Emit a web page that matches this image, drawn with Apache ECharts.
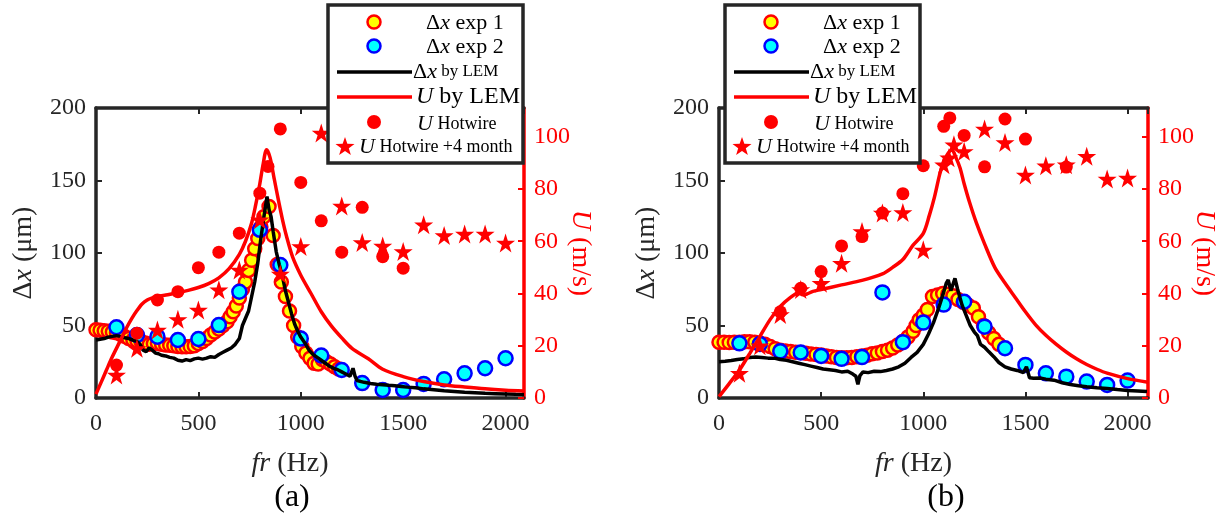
<!DOCTYPE html>
<html>
<head>
<meta charset="utf-8">
<script src="https://cdn.jsdelivr.net/npm/echarts@6/dist/echarts.min.js"></script>
<style>
html,body{margin:0;padding:0;background:#fff;}
#chart{width:1220px;height:521px;}
</style>
</head>
<body>
<div id="chart"></div>
<script>
// ---------------- Tick values ----------------
const xTicks = [0, 500, 1000, 1500, 2000];
const dxTicks = [0, 50, 100, 150, 200];
const uTicks = [0, 20, 40, 60, 80, 100];

// ---------------- Panel (a) ----------------
const a_exp1_fr = [0,20,40,60,80,100,120,140,160,180,200,
  220,240,260,280,300,320,340,360,380,400,420,440,460,480,500,520,540,560,580,600,620,640,
  655,670,685,700,715,730,745,760,775,790,805,820,
  845,865,885,905,925,945,965,985,1005,1025,1045,1065,1085,1105,1125,1145,1165,1185];
const a_exp1_dx = [47,46.8,46.3,46,45.5,45,44,42.5,41,40,39.5,
  39,38,37,37.5,37.8,37,36.5,36.3,36,35.5,35.3,35.3,35.5,36,37.5,39,41,43.5,45.5,47.5,50,52.6,
  56,59.5,63.5,69,75,80,88,95,103,110,118,125,
  132,112,92,80,70,60,50,42,35.5,31,27.4,24,23.5,26.5,25,23.5,21.6,20];

const a_exp2_fr = [100,200,300,400,500,600,700,800,900,1000,1100,1200,1300,1400,1500,1600,1700,1800,1900,2000];
const a_exp2_dx = [48.8,43.4,42.3,40,40.7,50.3,73.3,116,91.7,41,29.3,19.3,10.3,5.5,5.5,9.7,12.9,17,20.5,27.4];

const a_lem_fr = [0,20,40,60,80,100,120,140,160,180,200,215,230,245,260,275,290,305,320,
  340,360,380,400,420,440,460,480,500,520,540,560,580,600,620,640,660,680,700,
  715,730,745,760,775,790,805,820,835,845,855,865,880,895,910,925,940,955,970,985,1000,
  1020,1040,1060,1080,1100,1120,1140,1160,1180,1200,1220,1240,1255,1265,1275,1290,1310,1340,1370,1400,
  1430,1460,1490,1520,1560,1600,1650,1700,1750,1800,1850,1900,1950,2000,2050,2090];
const a_lem_dx = [40,40.5,41,42,42.5,43,42.5,41.5,41,40,39,37,33,32,34.5,33,31,30.5,29.5,
  29,28,27.5,26,25.5,26.5,25.8,27,27.5,26.8,27.5,28.5,28,30,31.5,33,34.5,37,41,
  50,55,60,70,80,93,110,125,139,130,125,115,101,92,84,74,66,58,51,46,42,
  38,33,30,28,26,24,22,20.5,19.5,18,16.5,15,20.5,15,12,11.5,10.8,10,9.5,9.2,
  8.8,8.5,8,7.5,7,6.3,5.7,5,4.5,4,3.6,3.2,3,2.8,2.6,2.5];

const a_lemU_fr = [0,25,50,75,100,125,150,175,200,225,250,275,300,
  350,400,450,500,550,600,650,700,
  730,760,780,800,815,833,850,870,890,910,930,960,
  1000,1050,1100,1150,1200,1250,1330,1400,1500,1600,1700,1800,1900,2000,2090];
const a_lemU = [1.5,6,10.5,15,19,23,27,30.5,33.5,36,37.5,38.3,38.8,
  39.5,40.3,41.2,42.3,43.8,46,49.5,55,
  60,67,74,82,89,95,92,84,76,68.5,62,54,
  47,40,33,27.5,23,19,15,11,8.2,6.3,5,4.2,3.5,3,2.7];

const a_hw_fr = [100,200,300,400,500,600,700,800,840,900,1000,1100,1200,1300,1400,1500];
const a_hw_U = [12.6,24.8,37.5,40.7,49.9,55.8,63.1,78.4,88.6,103,82.5,67.8,55.8,73,54.1,49.7];

const a_hw4_fr = [100,200,300,400,500,600,700,800,900,1000,1100,1200,1300,1400,1500,1600,1700,1800,1900,2000];
const a_hw4_U = [8.8,19,26,30.1,33.7,41.4,49,68.2,47.5,58,101.4,73.5,59.5,58.2,56.1,66.3,62.2,62.8,62.8,59.3];

// ---------------- Panel (b) ----------------
const b_exp1_fr = [0,25,50,75,100,125,150,175,200,225,250,275,300,325,350,375,400,425,450,475,500,
  525,550,575,600,625,650,675,700,725,750,775,800,825,850,875,900,925,950,
  965,980,1000,1020,1045,1070,1095,1120,1145,1170,1195,1220,1245,1270,1295,1320,1345,1370];
const b_exp1_dx = [38.5,38.5,38.3,38.5,38.5,38.8,38.8,38.5,38,37,35.5,34,33,32.5,32,31.5,31.3,30.8,30.3,30,29.6,
  29,28.5,28,27.7,27.7,28,28.5,29,29.5,30.5,31,32,33,34.5,36.5,39,42,46,
  50,54,57,61,70,71,72,71.5,70.5,68,66,64,62,56,50,45,41,37];

const b_exp2_fr = [100,200,300,400,500,600,700,800,900,1000,1100,1200,1300,1400,1500,1600,1700,1800,1900,2000];
const b_exp2_dx = [37.7,37.2,32.2,31.4,29,27,28.2,72.8,38.5,52,64.4,66.4,49.2,34.3,22.8,17,14.7,11.3,9,12];

const b_lem_fr = [0,30,60,90,120,150,180,210,240,270,300,330,360,390,420,450,480,510,540,570,600,
  630,655,670,680,690,705,730,760,790,820,850,880,910,940,970,1000,
  1025,1050,1075,1100,1112,1122,1135,1155,1168,1180,
  1190,1210,1230,1250,1265,1280,1300,1320,1345,1370,
  1400,1430,1460,1490,1505,1520,1540,1570,1600,
  1640,1680,1720,1760,1800,1850,1900,1950,2000,2050,2095];
const b_lem_dx = [25,25.3,25.8,26.5,27,28,28.3,28,27.5,27.5,26.5,26,25,24,23,22,21,20,19.5,19,18,
  18.5,16.5,15,9.5,15.5,18,17.5,18.5,18.2,19,20,21.5,24,28,31.5,37,
  44,52,62,73,79,81.5,74,82.5,75,69,
  64,57,50,45.5,43,37,35,32,28.5,24.5,
  21.5,20,19,17.5,21.5,14,13.6,13.8,13,
  12.3,10.5,9.3,8.5,7.8,7,6.5,5.8,5.2,4.8,4.4];

const b_lemU_fr = [0,50,100,150,200,250,300,350,390,410,430,460,500,
  600,700,800,850,900,950,1000,
  1030,1055,1080,1100,1120,1140,1160,1180,1200,1226,1260,1300,
  1350,1400,1450,1500,1550,1600,1650,1700,1750,1800,1850,1900,2000,2100];
const b_lemU = [0.5,5.5,10.7,17,23.5,30,35,38.5,40.3,39.5,39.8,40.8,41.5,
  43.3,45,47.5,50,53,58.5,63,
  70,77,85.5,90.5,93.5,95,92,88,82,75,67,59,
  50,44,38.5,33,28,24,20.6,17.6,15,12.8,11,9.5,7.4,6];

const b_hw_fr = [300,400,500,600,700,800,900,1000,1100,1130,1200,1300,1400,1500,1700];
const b_hw_U = [33,42,48.4,58.2,61.8,70.8,78.2,88.9,104,107.2,100.5,88.5,106.8,99.1,88.4];

const b_hw4_fr = [100,200,300,400,500,600,700,800,900,1000,1100,1125,1150,1200,1300,1400,1500,1600,1700,1800,1900,2000];
const b_hw4_U = [9.5,20,32,41.5,43.9,51.6,63.7,70.8,71,56.7,89.3,92,96.9,94.4,103,97.8,85.4,88.9,89.3,92.5,83.8,84.2];

// ---------------- Texts ----------------
const legendLabels = ['Δx exp 1', 'Δx exp 2', 'Δx by LEM', 'U by LEM', 'U Hotwire', 'U Hotwire +4 month'];
const panelLabels = ['(a)', '(b)'];

// ---------------- Helpers ----------------
const zip = (xs, ys) => xs.map((x, i) => [x, ys[i]]);
const FONT = '"Liberation Serif", "Times New Roman", serif';
const DARK = '#262626';
const RED = '#ff0000';
const starPath = 'path://M50,2 L61.8,37.6 L99,37.6 L68.9,59.6 L80.4,95.1 L50,73.1 L19.6,95.1 L31.1,59.6 L1,37.6 L38.2,37.6 Z';

const grids = [
  {left: 96, top: 108, width: 428, height: 290, outerBoundsMode: 'none', containLabel: false},
  {left: 719, top: 108, width: 429, height: 290, outerBoundsMode: 'none', containLabel: false}
];
const xMax = [2090, 2100];
const uMax = 111;

function richSet(size, color) {
  return {
    n: {fontFamily: FONT, fontSize: size, color: color},
    i: {fontFamily: FONT, fontSize: size, color: color, fontStyle: 'italic'}
  };
}
const plain = v => String(v);

const xAxes = [], yAxes = [];
[0, 1].forEach(g => {
  xAxes.push({
    type: 'value', gridIndex: g, min: 0, max: xMax[g], interval: 500, position: 'bottom',
    name: '{i|fr}{n| (Hz)}', nameLocation: 'middle', nameGap: 52,
    nameTextStyle: {rich: richSet(28, DARK), padding: [0, 40, 0, 0]},
    axisLine: {onZero: false, lineStyle: {color: DARK, width: 3.5}},
    axisTick: {inside: true, length: 6, lineStyle: {color: DARK, width: 2}},
    axisLabel: {fontFamily: FONT, fontSize: 24, color: DARK, margin: 14, showMaxLabel: false, formatter: plain},
    splitLine: {show: false}
  });
  xAxes.push({
    type: 'value', gridIndex: g, min: 0, max: xMax[g], interval: 500, position: 'top',
    axisLine: {onZero: false, lineStyle: {color: DARK, width: 3.5}},
    axisTick: {inside: true, length: 6, lineStyle: {color: DARK, width: 2}},
    axisLabel: {show: false}, splitLine: {show: false}
  });
  yAxes.push({
    type: 'value', gridIndex: g, min: 0, max: 200, interval: 50, position: 'left',
    name: '{n|Δ}{i|x}{n| (μm)}', nameLocation: 'middle', nameGap: 58, nameRotate: 90,
    nameTextStyle: {rich: richSet(28, DARK)},
    axisLine: {show: true, onZero: false, lineStyle: {color: DARK, width: 3.5}},
    axisTick: {show: true, inside: true, length: 6, lineStyle: {color: DARK, width: 2}},
    axisLabel: {fontFamily: FONT, fontSize: 24, color: DARK, margin: 10, formatter: plain},
    splitLine: {show: false}
  });
  yAxes.push({
    type: 'value', gridIndex: g, min: 0, max: uMax, interval: 20, position: 'right',
    name: '{i|U}{n| (m/s)}', nameLocation: 'middle', nameGap: 42, nameRotate: -90, nameMoveOverlap: false,
    nameTextStyle: {rich: richSet(28, RED)},
    axisLine: {show: true, onZero: false, lineStyle: {color: RED, width: 3.5}},
    axisTick: {show: true, inside: true, length: 6, lineStyle: {color: RED, width: 2}},
    axisLabel: {fontFamily: FONT, fontSize: 24, color: RED, margin: 10, showMaxLabel: false, formatter: plain},
    splitLine: {show: false}
  });
});

function panelSeries(g, d) {
  const xb = g * 2, yl = g * 2, yr = g * 2 + 1;
  return [
    {type: 'scatter', name: legendLabels[0], xAxisIndex: xb, yAxisIndex: yl, data: d.exp1, symbol: 'circle', symbolSize: 13,
      itemStyle: {color: '#ffff00', borderColor: RED, borderWidth: 2.5, opacity: 1}, z: 2},
    {type: 'scatter', name: legendLabels[1], xAxisIndex: xb, yAxisIndex: yl, data: d.exp2, symbol: 'circle', symbolSize: 14,
      itemStyle: {color: '#00ffff', borderColor: '#0000ff', borderWidth: 2.5, opacity: 1}, z: 3},
    {type: 'line', name: legendLabels[2], xAxisIndex: xb, yAxisIndex: yl, data: d.lem, showSymbol: false, symbol: 'none',
      lineStyle: {color: '#000', width: 3.5}, z: 4},
    {type: 'line', name: legendLabels[3], xAxisIndex: xb, yAxisIndex: yr, data: d.lemU, showSymbol: false, symbol: 'none', smooth: 0.3,
      lineStyle: {color: RED, width: 3.5}, z: 5},
    {type: 'scatter', name: legendLabels[4], xAxisIndex: xb, yAxisIndex: yr, data: d.hw, symbol: 'circle', symbolSize: 13,
      itemStyle: {color: RED, opacity: 1}, z: 6},
    {type: 'scatter', name: legendLabels[5], xAxisIndex: xb, yAxisIndex: yr, data: d.hw4, symbol: starPath, symbolSize: 19,
      itemStyle: {color: RED, opacity: 1}, z: 6}
  ];
}

const series = [].concat(
  panelSeries(0, {exp1: zip(a_exp1_fr, a_exp1_dx), exp2: zip(a_exp2_fr, a_exp2_dx), lem: zip(a_lem_fr, a_lem_dx),
    lemU: zip(a_lemU_fr, a_lemU), hw: zip(a_hw_fr, a_hw_U), hw4: zip(a_hw4_fr, a_hw4_U)}),
  panelSeries(1, {exp1: zip(b_exp1_fr, b_exp1_dx), exp2: zip(b_exp2_fr, b_exp2_dx), lem: zip(b_lem_fr, b_lem_dx),
    lemU: zip(b_lemU_fr, b_lemU), hw: zip(b_hw_fr, b_hw_U), hw4: zip(b_hw4_fr, b_hw4_U)})
);

// ---------------- Legend boxes (drawn as graphics) ----------------
function starPoints(cx, cy, R) {
  const pts = [];
  for (let k = 0; k < 10; k++) {
    const ang = (-90 + 36 * k) * Math.PI / 180;
    const r = k % 2 === 0 ? R : R * 0.4;
    pts.push([cx + r * Math.cos(ang), cy + r * Math.sin(ang)]);
  }
  return pts;
}
function legendGraphics(L) {
  const T = 5, Z = 100;
  const txt = (x, y, text, rich) => ({type: 'text', z: Z + 2, x: x, y: y,
    style: {text: text, rich: rich, verticalAlign: 'middle', align: 'left', font: '22px ' + FONT}});
  const mixRich = (a, b, color) => ({
    n: {fontFamily: FONT, fontSize: b, color: color},
    m: {fontFamily: FONT, fontSize: a, color: color},
    i: {fontFamily: FONT, fontSize: a, color: color, fontStyle: 'italic'}
  });
  return [
    {type: 'rect', z: Z, shape: {x: L, y: T, width: 195, height: 158},
      style: {fill: '#fff', stroke: DARK, lineWidth: 3.5}},
    {type: 'circle', z: Z + 1, shape: {cx: L + 46, cy: 22, r: 6.5}, style: {fill: '#ffff00', stroke: RED, lineWidth: 2.5}},
    txt(L + 98, 23, '{m|Δ}{i|x}{m| exp 1}', mixRich(22, 22, '#000')),
    {type: 'circle', z: Z + 1, shape: {cx: L + 46, cy: 46, r: 6.5}, style: {fill: '#00ffff', stroke: '#0000ff', lineWidth: 2.5}},
    txt(L + 98, 47, '{m|Δ}{i|x}{m| exp 2}', mixRich(22, 22, '#000')),
    {type: 'line', z: Z + 1, shape: {x1: L + 9, y1: 72, x2: L + 84, y2: 72}, style: {stroke: '#000', lineWidth: 3.5}},
    txt(L + 85, 72, '{m|Δ}{i|x}{n| by LEM}', mixRich(22, 17, '#000')),
    {type: 'line', z: Z + 1, shape: {x1: L + 9, y1: 97, x2: L + 84, y2: 97}, style: {stroke: RED, lineWidth: 3.5}},
    txt(L + 88, 97, '{i|U}{m| by LEM}', mixRich(24, 24, RED)),
    {type: 'circle', z: Z + 1, shape: {cx: L + 46, cy: 122, r: 7}, style: {fill: RED}},
    txt(L + 89, 124, '{i|U}{n| Hotwire}', mixRich(22, 18, RED)),
    {type: 'polygon', z: Z + 1, shape: {points: starPoints(L + 17, 147, 10)}, style: {fill: RED}},
    txt(L + 31, 147, '{i|U}{n| Hotwire +4 month}', mixRich(22, 18, RED))
  ];
}

const graphics = [].concat(
  legendGraphics(328),
  legendGraphics(725),
  [
    {type: 'text', x: 292, y: 498, style: {text: panelLabels[0], font: '32px ' + FONT, fill: '#000', align: 'center', verticalAlign: 'middle'}},
    {type: 'text', x: 946, y: 498, style: {text: panelLabels[1], font: '32px ' + FONT, fill: '#000', align: 'center', verticalAlign: 'middle'}}
  ]
);

const chart = echarts.init(document.getElementById('chart'), null, {renderer: 'canvas'});
chart.setOption({
  backgroundColor: '#fff',
  animation: false,
  grid: grids,
  xAxis: xAxes,
  yAxis: yAxes,
  series: series,
  graphic: graphics
});
</script>
</body>
</html>
